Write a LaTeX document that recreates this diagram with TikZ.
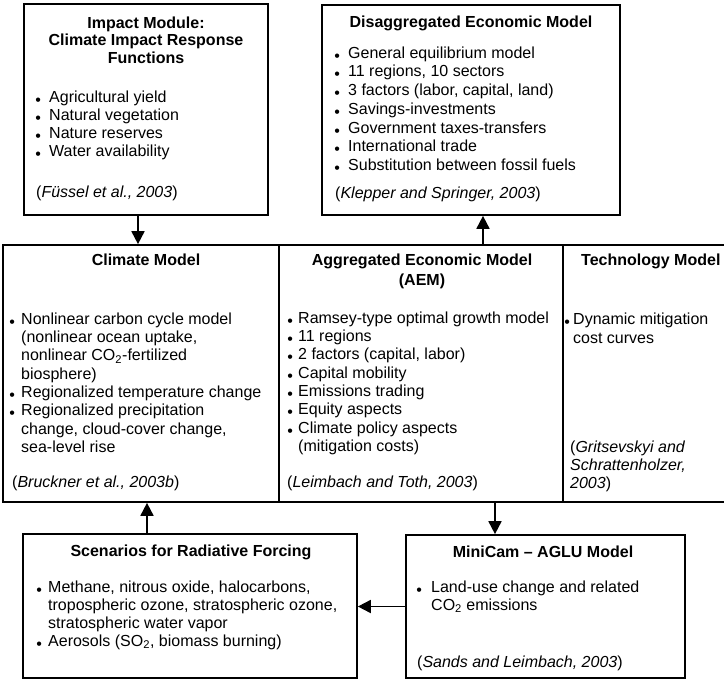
\documentclass[tikz,border=0pt]{standalone}
\usepackage{fontspec}
\setmainfont{Liberation Sans}
\usetikzlibrary{arrows.meta}
\newcommand\bw{11pt}
\newcommand\bu{\makebox[\bw][l]{\hspace*{-0.8pt}\raisebox{-3pt}{\fontsize{16}{16}\selectfont\textbullet}}}
\newcommand\hang{\hspace*{\bw}}
\newcommand\fst{\rule{0pt}{12pt}}
\begin{document}
\begin{tikzpicture}[x=1pt,y=-1pt,
  box/.style={draw, line width=1.7pt, inner sep=0pt, fill=white},
  bwid/.code={\def\bw{#1}},
  txt/.style={anchor=north west, inner sep=0pt, align=left, font=\fontsize{16}{#1}\selectfont},
  ttl/.style={anchor=north, inner sep=0pt, align=center, font=\bfseries\fontsize{16}{#1}\selectfont},
  arr/.style={line width=1.8pt, -{Triangle[length=13pt,width=13pt]}}]
\useasboundingbox (0,0) rectangle (724,681);
\fill[white] (0,0) rectangle (724,681);

% boxes
\node[box, minimum width=244pt, minimum height=211pt] (impact) at (146,109.5) {};
\node[box, minimum width=298pt, minimum height=210pt] (disagg) at (471,110) {};
\node[box, minimum width=276pt, minimum height=257pt] (climate) at (141,373.5) {};
\node[box, minimum width=284pt, minimum height=257pt] (aem) at (421,373.5) {};
\node[box, minimum width=197pt, minimum height=257pt] (tech) at (661.5,373.5) {};
\node[box, minimum width=334pt, minimum height=144pt] (scen) at (190,606) {};
\node[box, minimum width=279pt, minimum height=143pt] (minicam) at (545.5,606.5) {};

% Impact module
\node[ttl=17.7] (impT) at (146,16) {\fst Impact Module:\\Climate Impact Response\\Functions};
\node[txt=18, bwid=13pt] (impL) at (36,90) {\fst\bu Agricultural yield\\\bu Natural vegetation\\\bu Nature reserves\\\bu Water availability};
\node[txt=18] (impC) at (36,185) {\fst(\textit{Füssel et al., 2003})};

% Disaggregated
\node[ttl=18] (disT) at (471,15) {\fst Disaggregated Economic Model};
\node[txt=18.7, bwid=13pt] (disL) at (335,46) {\fst\bu General equilibrium model\\\bu 11 regions, 10 sectors\\\bu 3 factors (labor, capital, land)\\\bu Savings-investments\\\bu Government taxes-transfers\\\bu International trade\\\bu Substitution between fossil fuels};
\node[txt=18] (disC) at (335,186) {\fst(\textit{Klepper and Springer, 2003})};

% Climate model
\node[ttl=18] (cliT) at (146,253) {\fst Climate Model};
\node[txt=18.3, bwid=11pt] (cliL) at (10,312) {\fst\bu Nonlinear carbon cycle model\\\hang(nonlinear ocean uptake,\\\hang nonlinear CO\textsubscript{2}-fertilized\\\hang biosphere)\\\bu Regionalized temperature change\\\bu Regionalized precipitation\\\hang change, cloud-cover change,\\\hang sea-level rise};
\node[txt=18] (cliC) at (12,475) {\fst(\textit{Bruckner et al., 2003b})};

% AEM
\node[ttl=20] (aemT) at (422,253) {\fst Aggregated Economic Model\\(AEM)};
\node[txt=18.3, bwid=10pt] (aemL) at (288,311) {\fst\bu Ramsey-type optimal growth model\\\bu 11 regions\\\bu 2 factors (capital, labor)\\\bu Capital mobility\\\bu Emissions trading\\\bu Equity aspects\\\bu Climate policy aspects\\\hang(mitigation costs)};
\node[txt=18] (aemC) at (287,475) {\fst(\textit{Leimbach and Toth, 2003})};

% Technology
\node[txt=18, font=\bfseries\fontsize{16}{18}\selectfont] (tecT) at (581,253) {\fst Technology Model};
\node[txt=19, bwid=8pt] (tecL) at (565,312) {\fst\bu Dynamic mitigation\\\hang cost curves};
\node[txt=18] (tecC) at (570,440) {\fst(\textit{Gritsevskyi and}\\\textit{Schrattenholzer,}\\\textit{2003})};

% Scenarios
\node[ttl=18] (scnT) at (191,544) {\fst Scenarios for Radiative Forcing};
\node[txt=18, bwid=11pt] (scnL) at (37,580) {\fst\bu Methane, nitrous oxide, halocarbons,\\\hang tropospheric ozone, stratospheric ozone,\\\hang stratospheric water vapor\\\bu Aerosols (SO\textsubscript{2}, biomass burning)};

% MiniCam
\node[ttl=18] (minT) at (543,545) {\fst MiniCam -- AGLU Model};
\node[txt=18, bwid=14pt] (minL) at (417,580) {\fst\bu Land-use change and related\\\hang CO\textsubscript{2} emissions};
\node[txt=18] (minC) at (417,655) {\fst(\textit{Sands and Leimbach, 2003})};

% arrows
\draw[arr] ([xshift=-8pt]impact.south) -- ([xshift=-8pt]impact.south |- climate.north);
\draw[arr] ([xshift=62pt]aem.north) -- ([xshift=62pt]aem.north |- disagg.south);
\draw[arr] ([xshift=-43pt]scen.north) -- ([xshift=-43pt]scen.north |- climate.south);
\draw[arr] ([xshift=74pt]aem.south) -- ([xshift=74pt]aem.south |- minicam.north);
\draw[arr] (minicam.west) -- (minicam.west -| scen.east);
\end{tikzpicture}
\end{document}
